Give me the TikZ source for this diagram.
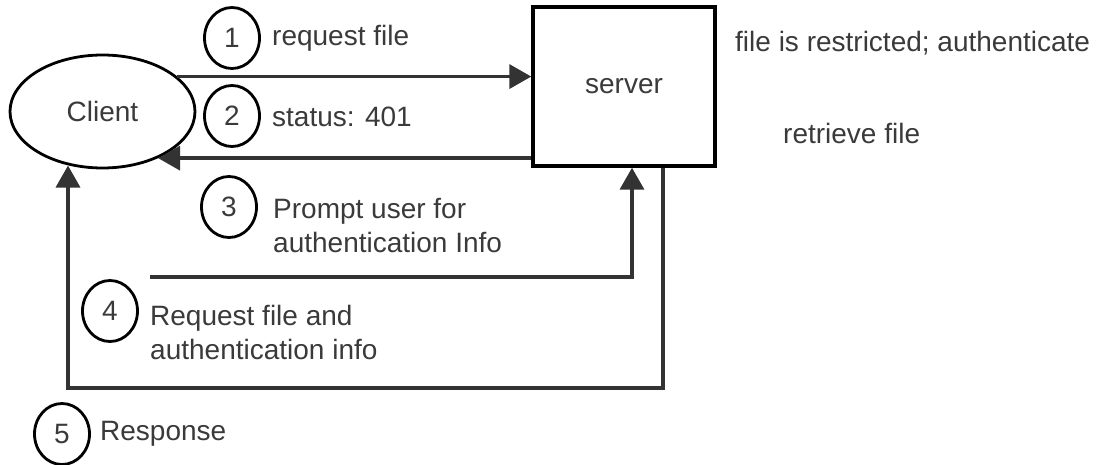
\documentclass[tikz,border=0pt]{standalone}
\usepackage{fontspec}
\setmainfont{Liberation Sans}
\usetikzlibrary{arrows.meta,shapes.geometric}
\definecolor{inkline}{RGB}{51,51,51}
\definecolor{inktext}{RGB}{58,58,58}
\tikzset{
  flow/.style={draw=inkline,line width=3.6,-{Triangle[length=22,width=24]}},
  stepno/.style={draw=black,ellipse,line width=2.8,minimum width=55,minimum height=61,inner sep=0,text=inktext},
  steptext/.style={anchor=west,align=left,inner sep=0,text=inktext},
}
\begin{document}
\begin{tikzpicture}[x=1pt,y=-1pt,font=\fontsize{28}{34}\selectfont]
\useasboundingbox (0,0) rectangle (1099,465);

%Shape: Ellipse [id:client]
\node (client) [draw=black,ellipse,line width=2.8,minimum width=185,minimum height=113,inner sep=0,text=inktext] at (102.5,111.5) {Client};
%Flowchart: Process [id:server]
\node (server) [draw=black,rectangle,line width=3.4,minimum width=182,minimum height=159,inner sep=0,text=inktext] at (624,86.5) {server};

%Straight Lines [id:req]
\draw [flow] (client.25) -- (client.25 -| server.west);
%Straight Lines [id:status]
\draw [flow] (client.-40 -| server.west) -- (client.-40);
%Straight Lines [id:auth]
\coordinate (authstart) at (150,277);
\draw [flow] (authstart) -| ([xshift=8]server.south);
%Straight Lines [id:resp]
\coordinate (respcorner) at (68,388);
\draw [flow] ([xshift=39]server.south) |- (respcorner) -- (respcorner |- client.-122);

% Text Node
\node (s1) [stepno] at (232,38) {1};
\node (l1) [steptext] at (272,38) {request file};
% Text Node
\node (s2) [stepno] at (232,116) {2};
\node (l2) [steptext] at (272,117) {status: 401};
% Text Node
\node (s3) [stepno] at (229,207) {3};
\node (l3) [steptext] at (273,226) {Prompt user for\\authentication Info};
% Text Node
\node (s4) [stepno] at (110,311) {4};
\node (l4) [steptext] at (150,332) {Request file and\\authentication info};
% Text Node
\node (s5) [stepno] at (62,434) {5};
\node (l5) [steptext] at (100,434) {Response};
% Text Node
\node (n1) [steptext] at (735,43) {file is restricted; authenticate};
% Text Node
\node (n2) [steptext] at (783,133) {retrieve file};

\end{tikzpicture}
\end{document}
